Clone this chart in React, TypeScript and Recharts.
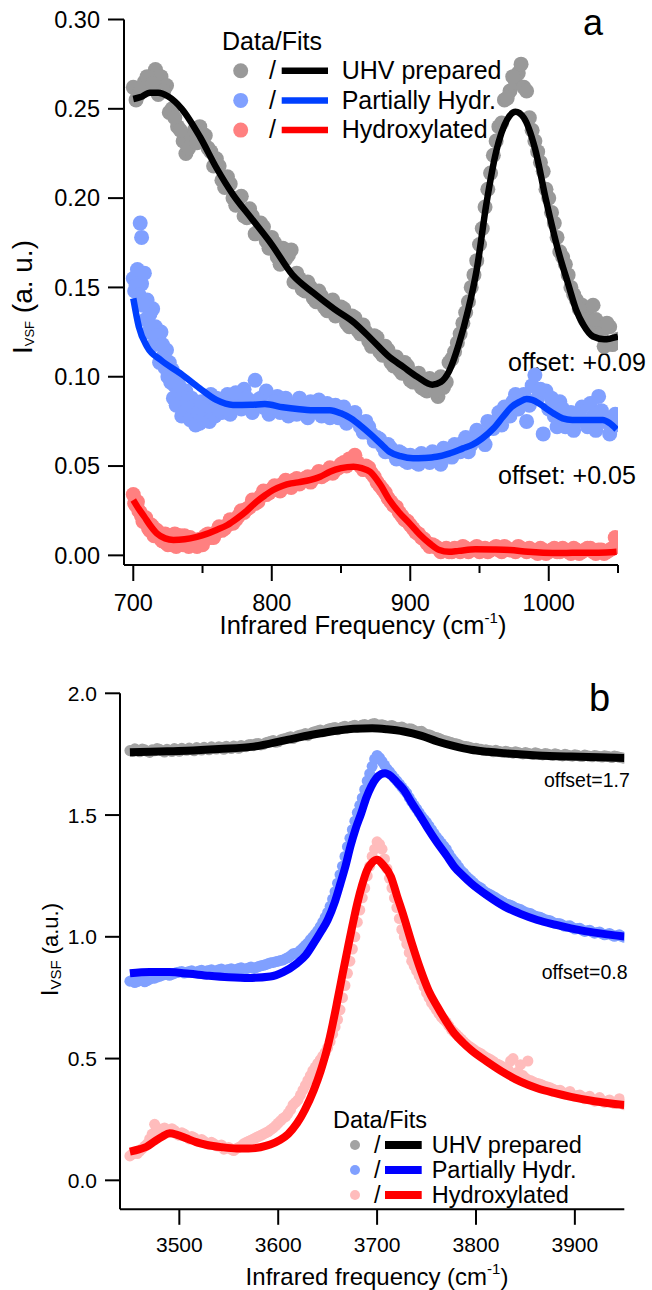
import React from 'react';
import { ComposedChart, Scatter, XAxis, YAxis, Legend } from 'recharts';

type Pt = [number, number];

const FONT = 'Arial, "Liberation Sans", Helvetica, sans-serif';

// ---------- panel a : 700-1050 cm-1 ----------
const aFreqTicks = [700, 750, 800, 850, 900, 950, 1000, 1050];
const aIntTicks = [0, 0.05, 0.1, 0.15, 0.2, 0.25, 0.3];

const uhvDataA: Pt[] = [
  [700, 0.262], [702, 0.255], [704, 0.258], [708, 0.265], [712, 0.262], [716, 0.272], [718, 0.258], [720, 0.268],
  [724, 0.263], [726, 0.248], [728, 0.25], [732, 0.24], [736, 0.232], [738, 0.225], [740, 0.228], [742, 0.235],
  [744, 0.238], [748, 0.24], [752, 0.235], [756, 0.226], [760, 0.222], [764, 0.21], [768, 0.212], [772, 0.2],
  [776, 0.2], [780, 0.19], [784, 0.194], [788, 0.18], [792, 0.186], [796, 0.176], [800, 0.178], [804, 0.167],
  [808, 0.172], [812, 0.168], [816, 0.153], [820, 0.155], [824, 0.148], [828, 0.15], [832, 0.142], [836, 0.145],
  [840, 0.137], [844, 0.143], [848, 0.135], [852, 0.138], [856, 0.128], [860, 0.133], [864, 0.124], [868, 0.125],
  [872, 0.117], [876, 0.122], [880, 0.112], [884, 0.115], [888, 0.106], [892, 0.104], [896, 0.108], [900, 0.098],
  [904, 0.1], [908, 0.094], [912, 0.092], [916, 0.097], [920, 0.089], [924, 0.094], [928, 0.108], [932, 0.114],
  [936, 0.124], [940, 0.136], [944, 0.15], [948, 0.165], [952, 0.183], [956, 0.205], [960, 0.224], [964, 0.24],
  [968, 0.255], [972, 0.26], [976, 0.265], [978, 0.27], [980, 0.275], [982, 0.262], [984, 0.26], [988, 0.238],
  [992, 0.226], [996, 0.215], [1000, 0.2], [1004, 0.186], [1008, 0.17], [1012, 0.163], [1016, 0.15], [1020, 0.143],
  [1024, 0.14], [1028, 0.135], [1032, 0.14], [1036, 0.125], [1040, 0.117], [1044, 0.128], [1048, 0.12],
  [706, 0.262], [710, 0.268], [714, 0.264], [722, 0.26], [730, 0.245], [734, 0.238], [746, 0.231], [750, 0.236],
  [754, 0.228], [758, 0.218], [762, 0.218], [766, 0.206], [770, 0.208], [774, 0.196], [778, 0.201], [782, 0.189],
  [786, 0.19], [790, 0.181], [794, 0.184], [798, 0.172], [802, 0.175], [806, 0.163], [810, 0.166], [814, 0.171],
  [818, 0.158], [822, 0.149], [826, 0.153], [830, 0.144], [834, 0.148], [838, 0.139], [842, 0.142], [846, 0.134],
  [850, 0.139], [854, 0.13], [858, 0.134], [862, 0.126], [866, 0.129], [870, 0.12], [874, 0.123], [878, 0.114],
  [882, 0.117], [886, 0.108], [890, 0.111], [894, 0.102], [898, 0.106], [902, 0.097], [906, 0.102], [910, 0.093],
  [914, 0.099], [918, 0.092], [922, 0.1], [926, 0.097], [930, 0.11], [934, 0.119], [938, 0.13], [942, 0.142],
  [946, 0.157], [950, 0.174], [954, 0.195], [958, 0.214], [962, 0.232], [966, 0.242], [970, 0.256], [974, 0.268],
  [986, 0.245], [990, 0.232], [994, 0.22], [998, 0.205], [1002, 0.192], [1006, 0.178], [1010, 0.167], [1014, 0.157],
  [1018, 0.146], [1022, 0.138], [1026, 0.132], [1030, 0.128], [1034, 0.132], [1038, 0.124], [1042, 0.13], [1046, 0.118],
  [1050, 0.121],
];

const partialDataA: Pt[] = [
  [700, 0.155], [701, 0.148], [703, 0.16], [705, 0.186], [706, 0.178], [706, 0.152], [708, 0.158], [710, 0.143],
  [712, 0.135], [714, 0.138], [716, 0.128], [718, 0.12], [720, 0.125], [722, 0.112], [724, 0.115], [726, 0.108],
  [728, 0.104], [730, 0.095], [732, 0.1], [734, 0.09], [736, 0.085], [738, 0.092], [740, 0.082], [742, 0.088],
  [744, 0.078], [746, 0.084], [748, 0.074], [750, 0.081], [752, 0.086], [754, 0.079], [756, 0.09], [758, 0.083],
  [760, 0.088], [764, 0.08], [768, 0.09], [772, 0.084], [776, 0.087], [780, 0.093], [784, 0.085], [788, 0.098],
  [792, 0.088], [796, 0.092], [800, 0.082], [804, 0.089], [808, 0.086], [812, 0.078], [816, 0.084], [820, 0.088],
  [824, 0.08], [828, 0.086], [832, 0.082], [836, 0.078], [840, 0.085], [844, 0.081], [848, 0.077], [852, 0.083],
  [856, 0.076], [860, 0.08], [864, 0.072], [868, 0.075], [872, 0.068], [876, 0.066], [880, 0.061], [884, 0.062],
  [888, 0.057], [892, 0.058], [896, 0.053], [900, 0.056], [904, 0.052], [908, 0.057], [912, 0.054], [916, 0.058],
  [920, 0.053], [924, 0.06], [928, 0.056], [932, 0.062], [936, 0.058], [940, 0.066], [944, 0.062], [948, 0.07],
  [952, 0.066], [956, 0.075], [960, 0.071], [964, 0.08], [968, 0.083], [972, 0.078], [976, 0.09], [980, 0.086],
  [984, 0.075], [988, 0.095], [990, 0.101], [992, 0.088], [996, 0.068], [998, 0.092], [1000, 0.082], [1004, 0.078],
  [1008, 0.086], [1012, 0.072], [1016, 0.08], [1020, 0.076], [1024, 0.083], [1028, 0.072], [1032, 0.078], [1036, 0.089],
  [1040, 0.075], [1044, 0.068], [1048, 0.079],
  [702, 0.151], [704, 0.146], [707, 0.14], [709, 0.132], [711, 0.125], [713, 0.128], [715, 0.118], [717, 0.123],
  [719, 0.108], [721, 0.118], [723, 0.105], [725, 0.1], [727, 0.097], [729, 0.088], [731, 0.084], [733, 0.095],
  [735, 0.078], [737, 0.08], [739, 0.086], [741, 0.076], [743, 0.083], [745, 0.073], [747, 0.08], [749, 0.086],
  [751, 0.077], [753, 0.083], [755, 0.075], [757, 0.081], [759, 0.078], [762, 0.081], [766, 0.086], [770, 0.079],
  [774, 0.091], [778, 0.082], [782, 0.088], [786, 0.08], [790, 0.087], [794, 0.083], [798, 0.079], [802, 0.086],
  [806, 0.08], [810, 0.088], [814, 0.083], [818, 0.079], [822, 0.085], [826, 0.077], [830, 0.083], [834, 0.087],
  [838, 0.081], [842, 0.077], [846, 0.084], [850, 0.079], [854, 0.074], [858, 0.078], [862, 0.075], [866, 0.069],
  [870, 0.072], [874, 0.064], [878, 0.065], [882, 0.058], [886, 0.06], [890, 0.054], [894, 0.057], [898, 0.052],
  [902, 0.055], [906, 0.051], [910, 0.055], [914, 0.052], [918, 0.056], [922, 0.051], [926, 0.058], [930, 0.055],
  [934, 0.06], [938, 0.063], [942, 0.058], [946, 0.065], [950, 0.068], [954, 0.062], [958, 0.072], [962, 0.075],
  [966, 0.073], [970, 0.081], [974, 0.086], [978, 0.082], [982, 0.09], [986, 0.084], [994, 0.093], [1002, 0.088],
  [1006, 0.072], [1010, 0.082], [1014, 0.076], [1018, 0.07], [1022, 0.079], [1026, 0.075], [1030, 0.085], [1034, 0.07],
  [1038, 0.081], [1042, 0.077], [1046, 0.072], [1050, 0.075],
];

const hydroxDataA: Pt[] = [
  [700, 0.034], [702, 0.028], [704, 0.025], [706, 0.022], [708, 0.02], [710, 0.018], [712, 0.014], [714, 0.016],
  [716, 0.012], [718, 0.013], [720, 0.009], [722, 0.011], [724, 0.007], [726, 0.01], [728, 0.006], [730, 0.012],
  [732, 0.009], [734, 0.011], [736, 0.006], [738, 0.009], [740, 0.005], [742, 0.008], [744, 0.006], [746, 0.005],
  [748, 0.009], [752, 0.011], [756, 0.01], [760, 0.013], [764, 0.014], [768, 0.017], [772, 0.018], [776, 0.022],
  [780, 0.024], [784, 0.027], [788, 0.029], [792, 0.033], [796, 0.034], [800, 0.037], [804, 0.037], [808, 0.04],
  [812, 0.039], [816, 0.042], [820, 0.04], [824, 0.043], [828, 0.041], [832, 0.045], [836, 0.044], [840, 0.047],
  [844, 0.046], [848, 0.049], [852, 0.052], [856, 0.054], [860, 0.056], [864, 0.05], [868, 0.05], [872, 0.046],
  [876, 0.041], [880, 0.037], [884, 0.032], [888, 0.028], [892, 0.024], [896, 0.02], [900, 0.017], [904, 0.013],
  [908, 0.01], [912, 0.007], [916, 0.006], [920, 0.004], [924, 0.003], [928, 0.002], [932, 0.004], [936, 0.002],
  [940, 0.004], [944, 0.003], [948, 0.005], [952, 0.003], [956, 0.002], [960, 0.004], [964, 0.003], [968, 0.005],
  [972, 0.003], [976, 0.002], [980, 0.004], [984, 0.002], [988, 0.003], [992, 0.001], [996, 0.003], [1000, 0.002],
  [1004, 0.004], [1008, 0.002], [1012, 0.003], [1016, 0.001], [1020, 0.003], [1024, 0.002], [1028, 0.004], [1032, 0.002],
  [1036, 0.003], [1040, 0.001], [1044, 0.003], [1048, 0.01], [1049, 0.005],
  [701, 0.029], [703, 0.03], [705, 0.024], [707, 0.019], [709, 0.021], [711, 0.015], [713, 0.017], [715, 0.011],
  [717, 0.014], [719, 0.01], [721, 0.008], [723, 0.012], [725, 0.006], [727, 0.009], [729, 0.007], [731, 0.005],
  [733, 0.01], [735, 0.008], [737, 0.011], [739, 0.007], [741, 0.01], [743, 0.006], [746, 0.008], [750, 0.006],
  [754, 0.012], [758, 0.01], [762, 0.016], [766, 0.015], [770, 0.02], [774, 0.02], [778, 0.025], [782, 0.026],
  [786, 0.031], [790, 0.03], [794, 0.036], [798, 0.035], [802, 0.039], [806, 0.036], [810, 0.042], [814, 0.038],
  [818, 0.043], [822, 0.042], [826, 0.044], [830, 0.043], [834, 0.047], [838, 0.045], [842, 0.049], [846, 0.048],
  [850, 0.051], [854, 0.05], [858, 0.053], [862, 0.052], [866, 0.048], [870, 0.049], [874, 0.044], [878, 0.039],
  [882, 0.035], [886, 0.03], [890, 0.027], [894, 0.022], [898, 0.019], [902, 0.015], [906, 0.012], [910, 0.009],
  [914, 0.005], [918, 0.005], [922, 0.002], [926, 0.004], [930, 0.002], [934, 0.003], [938, 0.005], [942, 0.002],
  [946, 0.004], [950, 0.002], [954, 0.004], [958, 0.003], [962, 0.005], [966, 0.002], [970, 0.004], [974, 0.003],
  [978, 0.005], [982, 0.003], [986, 0.004], [990, 0.002], [994, 0.004], [998, 0.001], [1002, 0.003], [1006, 0.002],
  [1010, 0.004], [1014, 0.002], [1018, 0.004], [1022, 0.001], [1026, 0.003], [1030, 0.004], [1034, 0.001], [1038, 0.003],
  [1042, 0.002], [1046, 0.004], [1050, 0.007],
];

const uhvFitA: Pt[] = [
  [700, 0.2555], [705, 0.2565], [712, 0.259], [718, 0.259], [725, 0.257], [735, 0.25], [748, 0.2345], [760, 0.217],
  [772, 0.202], [785, 0.189], [800, 0.174], [815, 0.157], [830, 0.147], [845, 0.138], [860, 0.13], [872, 0.121],
  [885, 0.111], [895, 0.1055], [905, 0.1], [916, 0.0955], [922, 0.097], [928, 0.103], [935, 0.118], [942, 0.138],
  [948, 0.16], [955, 0.197], [962, 0.226], [970, 0.244], [976, 0.2484], [982, 0.245], [990, 0.228], [998, 0.199],
  [1007, 0.17], [1014, 0.152], [1020, 0.137], [1025, 0.129], [1032, 0.1225], [1040, 0.121], [1050, 0.1225],
];

const partialFitA: Pt[] = [
  [700, 0.1439], [704, 0.128], [710, 0.1168], [720, 0.1093], [734, 0.1019], [748, 0.0935], [760, 0.087], [772, 0.0842],
  [785, 0.0843], [795, 0.0847], [808, 0.0829], [820, 0.0818], [828, 0.0813], [842, 0.0813], [850, 0.0795], [857, 0.0767],
  [865, 0.072], [871, 0.068], [878, 0.063], [885, 0.058], [893, 0.0555], [902, 0.0543], [910, 0.0545], [919, 0.0552],
  [928, 0.057], [938, 0.0599], [945, 0.062], [952, 0.0655], [960, 0.071], [967, 0.0776], [973, 0.083], [979, 0.086],
  [984, 0.0875], [988, 0.087], [993, 0.085], [998, 0.0823], [1004, 0.0792], [1010, 0.0767], [1017, 0.0758], [1024, 0.0758],
  [1032, 0.0758], [1039, 0.0758], [1044, 0.074], [1049, 0.0705],
];

const hydroxFitA: Pt[] = [
  [700, 0.031], [704, 0.026], [708, 0.0216], [712, 0.017], [717, 0.0123], [723, 0.0095], [729, 0.0086], [737, 0.009],
  [746, 0.0104], [753, 0.012], [760, 0.0142], [768, 0.017], [775, 0.0207], [782, 0.025], [789, 0.03], [795, 0.0335],
  [801, 0.0366], [808, 0.039], [814, 0.0403], [820, 0.041], [828, 0.0422], [835, 0.044], [842, 0.0468], [850, 0.0488],
  [859, 0.0496], [865, 0.0488], [871, 0.0468], [878, 0.04], [885, 0.031], [892, 0.024], [900, 0.0175], [907, 0.0115],
  [914, 0.0067], [921, 0.003], [928, 0.002], [935, 0.0025], [947, 0.0034], [960, 0.0033], [972, 0.003], [985, 0.002],
  [996, 0.0015], [1010, 0.0013], [1024, 0.0015], [1036, 0.0015], [1049, 0.002],
];

// ---------- panel b : 3450-3950 cm-1 ----------
const bFreqTicks = [3500, 3600, 3700, 3800, 3900];
const bIntTicks = [0, 0.5, 1, 1.5, 2];

const uhvDataB: Pt[] = [
  [3450, 1.765], [3455, 1.772], [3460, 1.76], [3465, 1.768], [3470, 1.757], [3475, 1.764], [3480, 1.77], [3485, 1.759],
  [3490, 1.766], [3495, 1.773], [3500, 1.762], [3505, 1.768], [3510, 1.775], [3515, 1.764], [3520, 1.771], [3525, 1.778],
  [3530, 1.768], [3535, 1.774], [3540, 1.781], [3545, 1.77], [3550, 1.777], [3555, 1.784], [3560, 1.774], [3565, 1.782],
  [3570, 1.789], [3575, 1.785], [3580, 1.794], [3585, 1.79], [3590, 1.8], [3595, 1.806], [3600, 1.801], [3605, 1.812],
  [3610, 1.818], [3615, 1.814], [3620, 1.826], [3625, 1.83], [3630, 1.826], [3635, 1.84], [3640, 1.846], [3645, 1.842],
  [3650, 1.852], [3655, 1.857], [3660, 1.85], [3665, 1.862], [3670, 1.858], [3675, 1.866], [3680, 1.861], [3685, 1.87],
  [3690, 1.864], [3695, 1.874], [3700, 1.866], [3705, 1.871], [3710, 1.862], [3715, 1.868], [3720, 1.857], [3725, 1.862],
  [3730, 1.85], [3735, 1.853], [3740, 1.84], [3745, 1.844], [3750, 1.83], [3755, 1.826], [3760, 1.818], [3765, 1.81],
  [3770, 1.804], [3775, 1.798], [3780, 1.793], [3785, 1.785], [3790, 1.782], [3795, 1.776], [3800, 1.774], [3805, 1.77],
  [3810, 1.768], [3815, 1.764], [3820, 1.766], [3825, 1.76], [3830, 1.762], [3835, 1.757], [3840, 1.76], [3845, 1.754],
  [3850, 1.757], [3855, 1.751], [3860, 1.756], [3865, 1.749], [3870, 1.753], [3875, 1.747], [3880, 1.752], [3885, 1.745],
  [3890, 1.75], [3895, 1.744], [3900, 1.748], [3905, 1.742], [3910, 1.747], [3915, 1.741], [3920, 1.745], [3925, 1.74],
  [3930, 1.744], [3935, 1.739], [3940, 1.743], [3945, 1.737], [3950, 1.733],
  [3452.5, 1.761], [3457.5, 1.767], [3462.5, 1.771], [3467.5, 1.762], [3472.5, 1.768], [3477.5, 1.773], [3482.5, 1.764],
  [3487.5, 1.77], [3492.5, 1.761], [3497.5, 1.768], [3502.5, 1.774], [3507.5, 1.766], [3512.5, 1.77], [3517.5, 1.777],
  [3522.5, 1.767], [3527.5, 1.773], [3532.5, 1.78], [3537.5, 1.771], [3542.5, 1.777], [3547.5, 1.783], [3552.5, 1.773],
  [3557.5, 1.779], [3562.5, 1.786], [3567.5, 1.781], [3572.5, 1.79], [3577.5, 1.793], [3582.5, 1.788], [3587.5, 1.797],
  [3592.5, 1.803], [3597.5, 1.799], [3602.5, 1.809], [3607.5, 1.814], [3612.5, 1.822], [3617.5, 1.82], [3622.5, 1.829],
  [3627.5, 1.835], [3632.5, 1.834], [3637.5, 1.843], [3642.5, 1.849], [3647.5, 1.846], [3652.5, 1.855], [3657.5, 1.86],
  [3662.5, 1.856], [3667.5, 1.865], [3672.5, 1.862], [3677.5, 1.869], [3682.5, 1.865], [3687.5, 1.872], [3692.5, 1.868],
  [3697.5, 1.876], [3702.5, 1.87], [3707.5, 1.868], [3712.5, 1.866], [3717.5, 1.863], [3722.5, 1.86], [3727.5, 1.856],
  [3732.5, 1.854], [3737.5, 1.847], [3742.5, 1.843], [3747.5, 1.836], [3752.5, 1.83], [3757.5, 1.82], [3762.5, 1.815],
  [3767.5, 1.806], [3772.5, 1.801], [3777.5, 1.794], [3782.5, 1.79], [3787.5, 1.783], [3792.5, 1.779], [3797.5, 1.773],
  [3802.5, 1.771], [3807.5, 1.766], [3812.5, 1.765], [3817.5, 1.76], [3822.5, 1.762], [3827.5, 1.757], [3832.5, 1.759],
  [3837.5, 1.754], [3842.5, 1.757], [3847.5, 1.751], [3852.5, 1.754], [3857.5, 1.749], [3862.5, 1.753], [3867.5, 1.747],
  [3872.5, 1.751], [3877.5, 1.745], [3882.5, 1.749], [3887.5, 1.743], [3892.5, 1.747], [3897.5, 1.742], [3902.5, 1.746],
  [3907.5, 1.74], [3912.5, 1.744], [3917.5, 1.739], [3922.5, 1.743], [3927.5, 1.738], [3932.5, 1.741], [3937.5, 1.736],
  [3942.5, 1.74], [3947.5, 1.735],
];

const partialDataB: Pt[] = [
  [3450, 0.818], [3455, 0.812], [3460, 0.822], [3465, 0.815], [3470, 0.826], [3475, 0.83], [3480, 0.838], [3485, 0.845],
  [3490, 0.842], [3495, 0.85], [3500, 0.855], [3505, 0.851], [3510, 0.858], [3515, 0.853], [3520, 0.86], [3525, 0.857],
  [3530, 0.862], [3535, 0.858], [3540, 0.865], [3545, 0.861], [3550, 0.866], [3555, 0.862], [3560, 0.87], [3565, 0.866],
  [3570, 0.872], [3575, 0.87], [3580, 0.878], [3585, 0.883], [3590, 0.89], [3595, 0.895], [3600, 0.9], [3605, 0.905],
  [3610, 0.915], [3615, 0.93], [3620, 0.935], [3625, 0.955], [3630, 0.975], [3635, 1.0], [3640, 1.025], [3645, 1.06],
  [3650, 1.1], [3655, 1.155], [3660, 1.22], [3665, 1.29], [3670, 1.37], [3675, 1.44], [3680, 1.51], [3685, 1.57],
  [3690, 1.64], [3695, 1.7], [3700, 1.745], [3705, 1.72], [3710, 1.69], [3715, 1.665], [3720, 1.64], [3725, 1.615],
  [3730, 1.59], [3735, 1.555], [3740, 1.525], [3745, 1.495], [3750, 1.47], [3755, 1.44], [3760, 1.41], [3765, 1.385],
  [3770, 1.36], [3775, 1.325], [3780, 1.3], [3785, 1.272], [3790, 1.25], [3795, 1.232], [3800, 1.212], [3805, 1.2],
  [3810, 1.182], [3815, 1.172], [3820, 1.16], [3825, 1.148], [3830, 1.135], [3835, 1.13], [3840, 1.118], [3845, 1.112],
  [3850, 1.1], [3855, 1.096], [3860, 1.084], [3865, 1.08], [3870, 1.07], [3875, 1.066], [3880, 1.055], [3885, 1.054],
  [3890, 1.043], [3895, 1.045], [3900, 1.032], [3905, 1.035], [3910, 1.022], [3915, 1.027], [3920, 1.015], [3925, 1.02],
  [3930, 1.008], [3935, 1.014], [3940, 1.002], [3945, 1.008], [3950, 0.998],
  [3452.5, 0.822], [3457.5, 0.816], [3462.5, 0.826], [3467.5, 0.82], [3472.5, 0.83], [3477.5, 0.835], [3482.5, 0.842],
  [3487.5, 0.848], [3492.5, 0.846], [3497.5, 0.853], [3502.5, 0.858], [3507.5, 0.854], [3512.5, 0.861], [3517.5, 0.856],
  [3522.5, 0.863], [3527.5, 0.86], [3532.5, 0.865], [3537.5, 0.861], [3542.5, 0.868], [3547.5, 0.864], [3552.5, 0.869],
  [3557.5, 0.866], [3562.5, 0.873], [3567.5, 0.869], [3572.5, 0.876], [3577.5, 0.874], [3582.5, 0.881], [3587.5, 0.886],
  [3592.5, 0.893], [3597.5, 0.898], [3602.5, 0.903], [3607.5, 0.91], [3612.5, 0.922], [3617.5, 0.932], [3622.5, 0.945],
  [3627.5, 0.965], [3632.5, 0.988], [3637.5, 1.012], [3642.5, 1.042], [3647.5, 1.08], [3652.5, 1.125], [3657.5, 1.185],
  [3662.5, 1.255], [3667.5, 1.33], [3672.5, 1.405], [3677.5, 1.475], [3682.5, 1.54], [3687.5, 1.605], [3692.5, 1.67],
  [3697.5, 1.73], [3702.5, 1.735], [3707.5, 1.705], [3712.5, 1.678], [3717.5, 1.652], [3722.5, 1.628], [3727.5, 1.602],
  [3732.5, 1.572], [3737.5, 1.54], [3742.5, 1.51], [3747.5, 1.482], [3752.5, 1.455], [3757.5, 1.425], [3762.5, 1.398],
  [3767.5, 1.372], [3772.5, 1.342], [3777.5, 1.312], [3782.5, 1.286], [3787.5, 1.262], [3792.5, 1.24], [3797.5, 1.222],
  [3802.5, 1.206], [3807.5, 1.19], [3812.5, 1.177], [3817.5, 1.166], [3822.5, 1.153], [3827.5, 1.142], [3832.5, 1.133],
  [3837.5, 1.124], [3842.5, 1.115], [3847.5, 1.106], [3852.5, 1.098], [3857.5, 1.09], [3862.5, 1.082], [3867.5, 1.075],
  [3872.5, 1.068], [3877.5, 1.06], [3882.5, 1.055], [3887.5, 1.048], [3892.5, 1.044], [3897.5, 1.038], [3902.5, 1.034],
  [3907.5, 1.028], [3912.5, 1.025], [3917.5, 1.02], [3922.5, 1.018], [3927.5, 1.013], [3932.5, 1.011], [3937.5, 1.007],
  [3942.5, 1.005], [3947.5, 1.002],
];

const hydroxDataB: Pt[] = [
  [3450, 0.1], [3455, 0.115], [3460, 0.12], [3465, 0.14], [3470, 0.17], [3475, 0.23], [3480, 0.2], [3485, 0.215],
  [3490, 0.2], [3495, 0.205], [3500, 0.185], [3505, 0.19], [3510, 0.17], [3515, 0.175], [3520, 0.158], [3525, 0.16],
  [3530, 0.148], [3535, 0.15], [3540, 0.14], [3545, 0.128], [3550, 0.135], [3555, 0.122], [3560, 0.135], [3565, 0.15],
  [3570, 0.16], [3575, 0.17], [3580, 0.18], [3585, 0.19], [3590, 0.2], [3595, 0.215], [3600, 0.235], [3605, 0.255],
  [3610, 0.275], [3615, 0.31], [3620, 0.33], [3625, 0.37], [3630, 0.41], [3635, 0.45], [3640, 0.48], [3645, 0.51],
  [3650, 0.545], [3655, 0.6], [3660, 0.66], [3665, 0.75], [3670, 0.85], [3675, 0.95], [3680, 1.06], [3685, 1.16],
  [3690, 1.25], [3695, 1.33], [3700, 1.39], [3705, 1.36], [3710, 1.28], [3715, 1.2], [3720, 1.12], [3725, 1.03],
  [3730, 0.97], [3735, 0.9], [3740, 0.86], [3745, 0.82], [3750, 0.77], [3755, 0.73], [3760, 0.7], [3765, 0.67],
  [3770, 0.65], [3775, 0.62], [3780, 0.6], [3785, 0.58], [3790, 0.56], [3795, 0.545], [3800, 0.53], [3805, 0.52],
  [3810, 0.505], [3815, 0.495], [3820, 0.48], [3825, 0.47], [3830, 0.46], [3835, 0.49], [3840, 0.44], [3845, 0.475],
  [3850, 0.42], [3855, 0.41], [3860, 0.4], [3865, 0.395], [3870, 0.385], [3875, 0.38], [3880, 0.37], [3885, 0.37],
  [3890, 0.355], [3895, 0.365], [3900, 0.345], [3905, 0.35], [3910, 0.335], [3915, 0.345], [3920, 0.325], [3925, 0.34],
  [3930, 0.32], [3935, 0.33], [3940, 0.315], [3945, 0.335], [3950, 0.31],
  [3452.5, 0.108], [3457.5, 0.11], [3462.5, 0.13], [3467.5, 0.15], [3472.5, 0.19], [3477.5, 0.215], [3482.5, 0.21],
  [3487.5, 0.195], [3492.5, 0.212], [3497.5, 0.19], [3502.5, 0.195], [3507.5, 0.178], [3512.5, 0.18], [3517.5, 0.165],
  [3522.5, 0.168], [3527.5, 0.152], [3532.5, 0.156], [3537.5, 0.142], [3542.5, 0.145], [3547.5, 0.132], [3552.5, 0.127],
  [3557.5, 0.13], [3562.5, 0.14], [3567.5, 0.155], [3572.5, 0.165], [3577.5, 0.175], [3582.5, 0.185], [3587.5, 0.195],
  [3592.5, 0.208], [3597.5, 0.225], [3602.5, 0.245], [3607.5, 0.262], [3612.5, 0.29], [3617.5, 0.32], [3622.5, 0.35],
  [3627.5, 0.39], [3632.5, 0.43], [3637.5, 0.465], [3642.5, 0.495], [3647.5, 0.525], [3652.5, 0.57], [3657.5, 0.63],
  [3662.5, 0.7], [3667.5, 0.8], [3672.5, 0.9], [3677.5, 1.0], [3682.5, 1.11], [3687.5, 1.2], [3692.5, 1.29],
  [3697.5, 1.36], [3702.5, 1.38], [3707.5, 1.32], [3712.5, 1.24], [3717.5, 1.16], [3722.5, 1.075], [3727.5, 1.0],
  [3732.5, 0.935], [3737.5, 0.88], [3742.5, 0.84], [3747.5, 0.795], [3752.5, 0.75], [3757.5, 0.715], [3762.5, 0.685],
  [3767.5, 0.66], [3772.5, 0.635], [3777.5, 0.61], [3782.5, 0.59], [3787.5, 0.57], [3792.5, 0.552], [3797.5, 0.538],
  [3802.5, 0.525], [3807.5, 0.512], [3812.5, 0.5], [3817.5, 0.488], [3822.5, 0.476], [3827.5, 0.465], [3832.5, 0.455],
  [3837.5, 0.5], [3842.5, 0.445], [3847.5, 0.43], [3852.5, 0.49], [3857.5, 0.405], [3862.5, 0.398], [3867.5, 0.39],
  [3872.5, 0.383], [3877.5, 0.375], [3882.5, 0.368], [3887.5, 0.362], [3892.5, 0.358], [3897.5, 0.35], [3902.5, 0.348],
  [3907.5, 0.342], [3912.5, 0.34], [3917.5, 0.333], [3922.5, 0.33], [3927.5, 0.327], [3932.5, 0.325], [3937.5, 0.32],
  [3942.5, 0.318], [3947.5, 0.322],
];

const uhvFitB: Pt[] = [
  [3450, 1.758], [3480, 1.761], [3507, 1.764], [3540, 1.771], [3575, 1.781], [3609, 1.809], [3643, 1.836], [3676, 1.854],
  [3695, 1.856], [3710, 1.852], [3727, 1.843], [3745, 1.825], [3761, 1.802], [3778, 1.783], [3795, 1.768], [3812, 1.76],
  [3829, 1.754], [3862, 1.745], [3896, 1.74], [3925, 1.737], [3950, 1.734],
];

const partialFitB: Pt[] = [
  [3450, 0.85], [3470, 0.856], [3490, 0.855], [3510, 0.848], [3530, 0.84], [3550, 0.834], [3570, 0.831], [3592, 0.837],
  [3605, 0.855], [3619, 0.891], [3628, 0.925], [3636, 0.974], [3643, 1.02], [3650, 1.069], [3657, 1.14], [3663, 1.22],
  [3668, 1.29], [3673, 1.371], [3678, 1.44], [3684, 1.508], [3689, 1.57], [3694, 1.617], [3699, 1.65], [3704, 1.668],
  [3708, 1.672], [3714, 1.66], [3720, 1.635], [3727, 1.603], [3735, 1.55], [3744, 1.494], [3752, 1.44], [3761, 1.385],
  [3770, 1.335], [3778, 1.288], [3787, 1.25], [3795, 1.22], [3812, 1.168], [3829, 1.124], [3845, 1.094], [3862, 1.069],
  [3880, 1.05], [3896, 1.035], [3920, 1.017], [3950, 1.001],
];

const hydroxFitB: Pt[] = [
  [3450, 0.118], [3460, 0.128], [3467, 0.138], [3475, 0.16], [3483, 0.18], [3490, 0.193], [3497, 0.188], [3507, 0.1725],
  [3517, 0.157], [3528, 0.145], [3543, 0.136], [3558, 0.131], [3570, 0.131], [3582, 0.136], [3592, 0.147], [3602, 0.166],
  [3610, 0.19], [3619, 0.234], [3627, 0.29], [3636, 0.371], [3643, 0.45], [3650, 0.549], [3655, 0.64], [3660, 0.741],
  [3665, 0.845], [3670, 0.946], [3675, 1.045], [3680, 1.138], [3685, 1.215], [3690, 1.275], [3695, 1.305], [3700, 1.316],
  [3706, 1.295], [3714, 1.247], [3720, 1.17], [3727, 1.083], [3735, 0.975], [3744, 0.864], [3752, 0.78], [3761, 0.713],
  [3770, 0.652], [3778, 0.604], [3787, 0.565], [3795, 0.535], [3812, 0.485], [3829, 0.44], [3845, 0.405], [3862, 0.378],
  [3880, 0.358], [3896, 0.343], [3920, 0.325], [3950, 0.309],
];

const seriesNames = ['UHV prepared', 'Partially Hydr.', 'Hydroxylated'];

const aSeries = [
  { name: seriesNames[0], data: uhvDataA, fit: uhvFitA, dot: '#999999', line: '#000000' },
  { name: seriesNames[1], data: partialDataA, fit: partialFitA, dot: '#80a0ff', line: '#0040ff' },
  { name: seriesNames[2], data: hydroxDataA, fit: hydroxFitA, dot: '#ff8080', line: '#ff0000' },
];

const bSeries = [
  { name: seriesNames[0], data: uhvDataB, fit: uhvFitB, dot: '#a3a3a3', line: '#000000' },
  { name: seriesNames[1], data: partialDataB, fit: partialFitB, dot: '#80a0ff', line: '#0000ff' },
  { name: seriesNames[2], data: hydroxDataB, fit: hydroxFitB, dot: '#ffbcbc', line: '#ff0000' },
];

const toPts = (arr: Pt[]) => arr.map(([x, y]) => ({ x, y }));

const dotShape = (r: number, fill: string) => (p: any) =>
  p.cx == null ? <g /> : <circle cx={p.cx} cy={p.cy} r={r} fill={fill} />;

const noShape = () => <g />;

const axisStroke = { stroke: '#000', strokeWidth: 2 };

const XTickA = (props: any) => {
  const { x, y, payload } = props;
  const major = payload.value % 100 === 0;
  return (
    <g>
      <line x1={x} x2={x} y1={y} y2={y + (major ? 16 : 8)} stroke="#000" strokeWidth={2} />
      {major && (
        <text x={x} y={y + 46} textAnchor="middle" fontSize={23.5} fontFamily={FONT} fill="#000">
          {payload.value}
        </text>
      )}
    </g>
  );
};

const XTickB = (props: any) => {
  const { x, y, payload } = props;
  return (
    <g>
      <line x1={x} x2={x} y1={y} y2={y + 15.5} stroke="#000" strokeWidth={2} />
      <text x={x} y={y + 42.4} textAnchor="middle" fontSize={21} fontFamily={FONT} fill="#000">
        {payload.value}
      </text>
    </g>
  );
};

const LegendA = () => (
  <svg width={652} height={160} style={{ display: 'block' }}>
    <text x={222} y={50} fontSize={25} fontFamily={FONT}>Data/Fits</text>
    {aSeries.map((s, i) => {
      const cy = 70.7 + i * 29.7;
      return (
        <g key={s.name} fontFamily={FONT} fontSize={25}>
          <circle cx={240.7} cy={cy} r={7.5} fill={s.dot} />
          <text x={269} y={cy + 8.3}>/</text>
          <line x1={281.7} x2={328} y1={cy} y2={cy} stroke={s.line} strokeWidth={6.5} />
          <text x={341.7} y={cy + 8.3}>{s.name}</text>
        </g>
      );
    })}
  </svg>
);

const LegendB = () => (
  <svg width={652} height={580} style={{ display: 'block' }}>
    <text x={333} y={488} fontSize={23.5} fontFamily={FONT}>Data/Fits</text>
    {bSeries.map((s, i) => {
      const cy = 505 + i * 25;
      return (
        <g key={s.name} fontFamily={FONT} fontSize={23.5}>
          <circle cx={355} cy={cy} r={5} fill={s.dot} />
          <text x={374} y={cy + 8}>/</text>
          <line x1={385} x2={421.7} y1={cy} y2={cy} stroke={s.line} strokeWidth={8} />
          <text x={431.7} y={cy + 8}>{s.name}</text>
        </g>
      );
    })}
  </svg>
);

const TextsA = () => (
  <g fontFamily={FONT} fill="#000">
    <text transform="rotate(-90 31.7 354)" x={31.7} y={354} fontSize={28}>
      I<tspan fontSize={13} dy={2}>VSF</tspan>
      <tspan dy={-2}> (a. u.)</tspan>
    </text>
    <text x={583} y={35} fontSize={36}>a</text>
    <text x={508} y={371} fontSize={25}>offset: +0.09</text>
    <text x={498} y={484} fontSize={25}>offset: +0.05</text>
  </g>
);

const XLabelA = () => (
  <text x={363} y={634} textAnchor="middle" fontSize={25.5} fontFamily={FONT} fill="#000">
    Infrared Frequency (cm<tspan fontSize={15} dy={-11}>-1</tspan>
    <tspan dy={11}>)</tspan>
  </text>
);

const TextsB = () => (
  <g fontFamily={FONT} fill="#000">
    <text transform="rotate(-90 58.3 356)" x={58.3} y={356} fontSize={23}>
      I<tspan fontSize={15} dy={3}>VSF</tspan>
      <tspan dy={-3} fontSize={22}> (a.u.)</tspan>
    </text>
    <text x={589} y={70.7} fontSize={38}>b</text>
    <text x={544} y={146.7} fontSize={19.5}>offset=1.7</text>
    <text x={541.7} y={339} fontSize={19.5}>offset=0.8</text>
  </g>
);

const XLabelB = () => (
  <text x={377} y={645} textAnchor="middle" fontSize={24} fontFamily={FONT} fill="#000">
    Infrared frequency (cm<tspan fontSize={15} dy={-11}>-1</tspan>
    <tspan dy={11}>)</tspan>
  </text>
);

const PanelA = () => (
  <ComposedChart width={652} height={640} margin={{ top: 19.5, right: 34, bottom: 0, left: 0 }}>
    <XAxis
      type="number"
      dataKey="x"
      domain={[693.3, 1050]}
      allowDataOverflow
      ticks={aFreqTicks}
      interval={0}
      tick={<XTickA />}
      tickLine={false}
      tickSize={0}
      tickMargin={0}
      height={75}
      axisLine={axisStroke}
      label={() => <XLabelA />}
    />
    <YAxis
      type="number"
      domain={[-0.0054, 0.3]}
      allowDataOverflow
      ticks={aIntTicks}
      interval={0}
      width={124}
      tickSize={16}
      tickMargin={8}
      tickFormatter={(v: number) => v.toFixed(2)}
      tick={{ fill: '#000', fontSize: 23.5, fontFamily: FONT }}
      tickLine={axisStroke}
      axisLine={axisStroke}
      label={() => <TextsA />}
    />
    {aSeries.map((s) => (
      <Scatter
        key={'d' + s.name}
        name={s.name}
        data={toPts(s.data)}
        dataKey="y"
        shape={dotShape(7.5, s.dot)}
        isAnimationActive={false}
      />
    ))}
    {aSeries.map((s) => (
      <Scatter
        key={'f' + s.name}
        name={s.name + ' fit'}
        data={toPts(s.fit)}
        dataKey="y"
        shape={noShape}
        line={{ stroke: s.line, strokeWidth: 6.5, strokeLinejoin: 'round' }}
        lineType="joint"
        lineJointType="monotoneX"
        legendType="none"
        isAnimationActive={false}
      />
    ))}
    <Legend
      layout="vertical"
      align="center"
      verticalAlign="middle"
      wrapperStyle={{ left: 0, top: 0, width: 652, pointerEvents: 'none' }}
      content={() => <LegendA />}
    />
  </ComposedChart>
);

const PanelB = () => (
  <ComposedChart width={652} height={650} margin={{ top: 53.3, right: 27.7, bottom: 0, left: 0 }}>
    <XAxis
      type="number"
      dataKey="x"
      domain={[3440, 3950]}
      allowDataOverflow
      ticks={bFreqTicks}
      interval={0}
      tick={<XTickB />}
      tickLine={false}
      tickSize={0}
      tickMargin={0}
      height={80.7}
      axisLine={axisStroke}
      label={() => <XLabelB />}
    />
    <YAxis
      type="number"
      domain={[-0.119, 2]}
      allowDataOverflow
      ticks={bIntTicks}
      interval={0}
      width={120}
      tickSize={15}
      tickMargin={8}
      tickFormatter={(v: number) => v.toFixed(1)}
      tick={{ fill: '#000', fontSize: 21, fontFamily: FONT }}
      tickLine={axisStroke}
      axisLine={axisStroke}
      label={() => <TextsB />}
    />
    {bSeries.map((s) => (
      <Scatter
        key={'d' + s.name}
        name={s.name}
        data={toPts(s.data)}
        dataKey="y"
        shape={dotShape(5.5, s.dot)}
        isAnimationActive={false}
      />
    ))}
    {bSeries.map((s) => (
      <Scatter
        key={'f' + s.name}
        name={s.name + ' fit'}
        data={toPts(s.fit)}
        dataKey="y"
        shape={noShape}
        line={{ stroke: s.line, strokeWidth: 8, strokeLinejoin: 'round' }}
        lineType="joint"
        lineJointType="monotoneX"
        legendType="none"
        isAnimationActive={false}
      />
    ))}
    <Legend
      layout="vertical"
      align="center"
      verticalAlign="middle"
      wrapperStyle={{ left: 0, top: 0, width: 652, pointerEvents: 'none' }}
      content={() => <LegendB />}
    />
  </ComposedChart>
);

export default function App() {
  return (
    <div style={{ width: 652, height: 1290, background: '#fff', fontFamily: FONT }}>
      <style>{'body{margin:0;background:#fff}'}</style>
      <PanelA />
      <PanelB />
    </div>
  );
}
